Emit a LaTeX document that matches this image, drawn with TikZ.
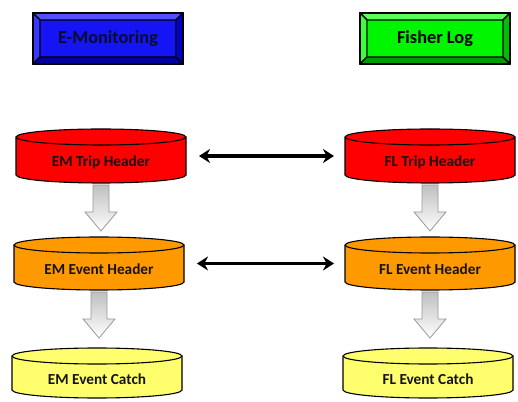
\documentclass[tikz,border=0pt]{standalone}
\usepackage{fontspec}
\setmainfont{Carlito}
\usetikzlibrary{calc,backgrounds,arrows.meta}
\definecolor{embluemain}{RGB}{20,20,245}
\definecolor{embluetop}{RGB}{80,80,255}
\definecolor{emblueleft}{RGB}{55,55,255}
\definecolor{embluebot}{RGB}{0,0,160}
\definecolor{embluerig}{RGB}{0,0,200}
\definecolor{flgreenmain}{RGB}{0,245,0}
\definecolor{flgreentop}{RGB}{90,255,90}
\definecolor{flgreenleft}{RGB}{60,255,60}
\definecolor{flgreenbot}{RGB}{0,155,0}
\definecolor{flgreenrig}{RGB}{0,190,0}
\definecolor{cylred}{RGB}{255,0,0}
\definecolor{cylorange}{RGB}{255,153,0}
\definecolor{cylyellow}{RGB}{255,255,110}
\definecolor{hdrtext}{RGB}{12,12,45}
\tikzset{
  cylbox/.style={minimum width=170pt, inner sep=0pt, outer sep=0pt},
  cyltext/.style={font=\bfseries\fontsize{15.3}{17}\selectfont, text=black!92, yshift=-6pt},
  hdr/.style={minimum width=150pt, minimum height=51pt, inner sep=0pt, outer sep=0pt,
    font=\bfseries\fontsize{18.3}{20}\selectfont},
  link/.style={{Stealth[length=11pt,width=14pt]}-{Stealth[length=11pt,width=14pt]},
    line width=3.1pt, shorten <=13pt, shorten >=11pt},
  blockarr/.style={draw=gray!80, line width=0.8pt, top color=gray!50, bottom color=white},
  cylline/.style={draw=black, line width=1.1pt},
  bevline/.style={draw=black, line width=1.4pt, line join=round},
}
\newcommand\cylshape[2]{%
  \path[cylline, fill=#2] ($(#1.north west)+(0,-8)$) -- ($(#1.south west)+(0,8)$)
    arc[start angle=180,end angle=360,x radius=85,y radius=8]
    -- ($(#1.north east)+(0,-8)$)
    arc[start angle=0,end angle=180,x radius=85,y radius=8] -- cycle;
  \draw[cylline] ($(#1.north west)+(0,-8)$) arc[start angle=180,end angle=360,x radius=85,y radius=8];}
\newcommand\bevelbox[6]{%
  \filldraw[bevline, fill=#2] (#1.north west) rectangle (#1.south east);
  \filldraw[bevline, fill=#3] (#1.north west) -- (#1.north east) -- ($(#1.north east)+(-7,-7)$) -- ($(#1.north west)+(7,-7)$) -- cycle;
  \filldraw[bevline, fill=#4] (#1.north west) -- (#1.south west) -- ($(#1.south west)+(7,7)$) -- ($(#1.north west)+(7,-7)$) -- cycle;
  \filldraw[bevline, fill=#5] (#1.south west) -- (#1.south east) -- ($(#1.south east)+(-7,7)$) -- ($(#1.south west)+(7,7)$) -- cycle;
  \filldraw[bevline, fill=#6] (#1.north east) -- (#1.south east) -- ($(#1.south east)+(-7,7)$) -- ($(#1.north east)+(-7,-7)$) -- cycle;
  \draw[bevline] (#1.north west) rectangle (#1.south east);}
\newcommand\blockarrow[2]{%
  \path[blockarr] let \p1=(#1.south), \p2=(#2.north) in
    (\x1-8pt,\y1-2pt) -- (\x1+8pt,\y1-2pt) -- (\x1+8pt,\y1-29pt) -- (\x1+16pt,\y1-29pt)
    -- (\x1,\y1-48pt) -- (\x1-16pt,\y1-29pt) -- (\x1-8pt,\y1-29pt) -- cycle;}
\begin{document}
\begin{tikzpicture}[x=1pt,y=1pt]
\useasboundingbox (0,0) rectangle (518,401);
% headers
\node[hdr, text=hdrtext] (em) at (108,362.5) {E-Monitoring};
\node[hdr, text=black] (fl) at (435,362.5) {Fisher Log};
% cylinders
\node[cylbox, minimum height=54pt, label={[cyltext]center:EM Trip Header}] (emtrip) at (101,245) {};
\node[cylbox, minimum height=53pt, label={[cyltext]center:EM Event Header}] (emevent) at (99,137.5) {};
\node[cylbox, minimum height=50pt, label={[cyltext]center:EM Event Catch}] (emcatch) at (97,28) {};
\node[cylbox, minimum height=54pt, label={[cyltext]center:FL Trip Header}] (fltrip) at (430,245) {};
\node[cylbox, minimum height=53pt, label={[cyltext]center:FL Event Header}] (flevent) at (430,137.5) {};
\node[cylbox, minimum height=50pt, label={[cyltext]center:FL Event Catch}] (flcatch) at (428,28) {};
% links
\draw[link] (emtrip.east) -- (fltrip.west);
\draw[link] (emevent.east) -- (flevent.west);
\begin{scope}[on background layer]
  \fill[white] (0,0) rectangle (518,401);
  \bevelbox{em}{embluemain}{embluetop}{emblueleft}{embluebot}{embluerig}
  \bevelbox{fl}{flgreenmain}{flgreentop}{flgreenleft}{flgreenbot}{flgreenrig}
  \cylshape{emtrip}{cylred}
  \cylshape{emevent}{cylorange}
  \cylshape{emcatch}{cylyellow}
  \cylshape{fltrip}{cylred}
  \cylshape{flevent}{cylorange}
  \cylshape{flcatch}{cylyellow}
  \blockarrow{emtrip}{emevent}
  \blockarrow{emevent}{emcatch}
  \blockarrow{fltrip}{flevent}
  \blockarrow{flevent}{flcatch}
\end{scope}
\end{tikzpicture}
\end{document}
